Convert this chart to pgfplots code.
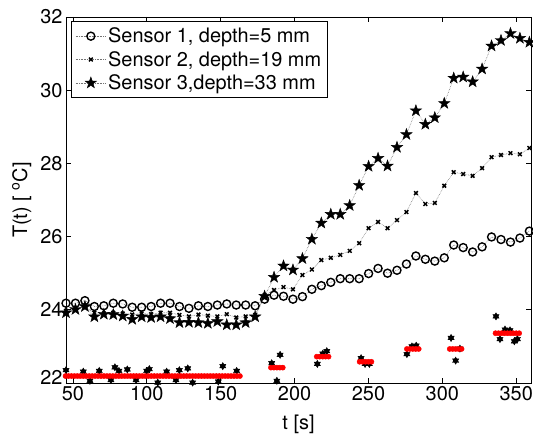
\documentclass[border=0pt]{standalone}
\usepackage{fontspec}
\setmainfont{TeX Gyre Heros}
\usepackage{pgfplots}
\pgfplotsset{compat=1.18}

% filled five-pointed star
\pgfdeclareplotmark{pstar}{%
  \pgfpathmoveto{\pgfpointpolar{90}{\pgfplotmarksize}}%
  \pgfpathlineto{\pgfpointpolar{126}{0.40\pgfplotmarksize}}%
  \pgfpathlineto{\pgfpointpolar{162}{\pgfplotmarksize}}%
  \pgfpathlineto{\pgfpointpolar{198}{0.40\pgfplotmarksize}}%
  \pgfpathlineto{\pgfpointpolar{234}{\pgfplotmarksize}}%
  \pgfpathlineto{\pgfpointpolar{270}{0.40\pgfplotmarksize}}%
  \pgfpathlineto{\pgfpointpolar{306}{\pgfplotmarksize}}%
  \pgfpathlineto{\pgfpointpolar{342}{0.40\pgfplotmarksize}}%
  \pgfpathlineto{\pgfpointpolar{18}{\pgfplotmarksize}}%
  \pgfpathlineto{\pgfpointpolar{54}{0.40\pgfplotmarksize}}%
  \pgfpathclose
  \pgfusepathqfillstroke
}
% filled six-pointed star
\pgfdeclareplotmark{hexa}{%
  \pgfpathmoveto{\pgfpointpolar{90}{\pgfplotmarksize}}%
  \pgfpathlineto{\pgfpointpolar{210}{\pgfplotmarksize}}%
  \pgfpathlineto{\pgfpointpolar{330}{\pgfplotmarksize}}%
  \pgfpathclose
  \pgfpathmoveto{\pgfpointpolar{30}{\pgfplotmarksize}}%
  \pgfpathlineto{\pgfpointpolar{150}{\pgfplotmarksize}}%
  \pgfpathlineto{\pgfpointpolar{270}{\pgfplotmarksize}}%
  \pgfpathclose
  \pgfusepathqfillstroke
}

\pgfplotstableread{
t T
45.3 24.18
51.7 24.18
58.1 24.25
64.5 24.09
70.9 24.11
77.3 24.18
83.7 24.16
90.1 24.07
96.5 24.07
102.9 24.09
109.3 24.18
115.7 24.18
122.1 24.09
128.5 24.04
134.9 24.11
141.3 24.09
147.7 24.13
154.1 24.16
160.5 24.13
166.9 24.13
173.3 24.11
179.7 24.29
186.1 24.40
192.5 24.37
198.9 24.29
205.3 24.36
211.7 24.56
218.1 24.66
224.5 24.75
230.9 24.85
237.3 24.85
243.7 24.85
250.1 24.99
256.5 25.13
262.9 25.00
269.3 25.08
275.7 25.25
282.1 25.47
288.5 25.38
294.9 25.33
301.3 25.42
307.7 25.77
314.1 25.70
320.5 25.58
326.9 25.72
333.3 25.99
339.7 25.92
346.1 25.85
352.5 25.96
358.9 26.15
}\sone

\pgfplotstableread{
t T
45.3 23.97
51.7 24.02
58.1 24.07
64.5 23.92
70.9 23.90
77.3 23.92
83.7 23.90
90.1 23.87
96.5 23.90
102.9 23.88
109.3 23.92
115.7 23.92
122.1 23.86
128.5 23.82
134.9 23.87
141.3 23.84
147.7 23.82
154.1 23.88
160.5 23.79
166.9 23.82
173.3 23.86
179.7 24.40
186.1 24.54
192.5 24.62
198.9 24.56
205.3 24.95
211.7 25.10
218.1 25.36
224.5 25.42
230.9 25.50
237.3 25.61
243.7 25.82
250.1 26.23
256.5 26.40
262.9 26.23
269.3 26.45
275.7 26.67
282.1 27.19
288.5 26.89
294.9 26.92
301.3 27.39
307.7 27.76
314.1 27.71
320.5 27.66
326.9 27.87
333.3 28.17
339.7 28.23
346.1 28.28
352.5 28.25
358.9 28.42
}\stwo

\pgfplotstableread{
t T
45.3 23.92
51.7 24.01
58.1 24.09
64.5 23.81
70.9 23.88
77.3 23.87
83.7 23.83
90.1 23.74
96.5 23.81
102.9 23.79
109.3 23.81
115.7 23.76
122.1 23.65
128.5 23.66
134.9 23.65
141.3 23.63
147.7 23.68
154.1 23.59
160.5 23.59
166.9 23.65
173.3 23.81
179.7 24.37
186.1 24.89
192.5 25.20
198.9 25.09
205.3 25.40
211.7 25.93
218.1 26.37
224.5 26.61
230.9 26.61
237.3 26.85
243.7 27.40
250.1 27.92
256.5 28.14
262.9 27.93
269.3 28.44
275.7 28.79
282.1 29.44
288.5 29.07
294.9 29.25
301.3 29.64
307.7 30.33
314.1 30.36
320.5 30.23
326.9 30.58
333.3 31.21
339.7 31.36
346.1 31.55
352.5 31.42
358.9 31.31
}\sthree

\pgfplotstableread{
t T
45.3 22.35
57.0 22.31
61.5 22.06
67.8 22.33
75.7 22.08
78.4 22.43
81.1 22.33
86.8 22.37
92.7 22.08
99.9 22.33
101.7 22.38
107.4 22.01
113.4 22.31
119.7 22.08
122.0 22.35
127.7 22.40
131.0 22.01
148.4 22.04
151.4 22.46
160.8 22.33
184.5 22.54
188.0 22.06
190.2 22.77
215.4 22.52
219.1 22.80
221.8 22.87
245.0 22.68
247.7 22.52
250.6 22.52
276.0 22.79
279.4 23.00
282.3 23.02
305.9 23.23
309.0 22.61
311.9 22.94
336.3 23.82
339.0 23.20
342.4 23.46
345.8 23.44
348.7 23.14
350.8 23.20
}\lowtab

\begin{document}
\begin{tikzpicture}
\useasboundingbox (-66bp,-52bp) rectangle (467bp,383bp);
\begin{axis}[
  scale only axis, width=465bp, height=366bp,
  xmin=45.3, xmax=360, ymin=22, ymax=32,
  xtick={50,100,...,350}, ytick={24,26,...,32},
  extra y ticks={22},
  extra y tick style={yticklabel style={yshift=6bp}},
  tick align=inside, tick pos=both,
  axis on top,
  major tick length=5bp,
  axis line style={line width=0.9bp},
  every tick/.style={black, line width=0.7bp},
  tick label style={font=\fontsize{20}{24}\selectfont},
  /pgf/number format/assume math mode=true,
  yticklabel style={xshift=0bp},
  xlabel={t [s]}, ylabel={T(t) [ \textsuperscript{o}C]},
  label style={font=\fontsize{20}{24}\selectfont},
  xlabel style={at={(axis description cs:0.5,-0.112)}, anchor=center},
  ylabel style={at={(axis description cs:-0.095,0.5)}, anchor=center},
  clip=false,
  legend style={at={(0.011,0.989)}, anchor=north west,
    font=\fontsize{20}{22}\selectfont, draw=black, line width=0.9bp,
    inner xsep=4bp, inner ysep=4.5bp, row sep=3bp,
    nodes={inner sep=2bp, text depth=0.15em}},
  legend cell align=left,
  legend image code/.code={\draw[mark repeat=2,mark phase=2,#1] plot coordinates {(0bp,0bp)(15bp,0bp)(30bp,0bp)};},
]
\addplot[densely dotted, line width=0.6bp, black!55, mark=o, mark size=4bp,
  mark options={solid, black, line width=1.4bp}] table[x=t,y=T] {\sone};
\addlegendentry{Sensor 1, depth=5 mm}
\addplot[densely dotted, line width=0.6bp, black!55, mark=x, mark size=2.6bp,
  mark options={solid, black, line width=1.5bp}] table[x=t,y=T] {\stwo};
\addlegendentry{Sensor 2, depth=19 mm}
\addplot[densely dotted, line width=0.6bp, black!55, mark=pstar, mark size=6bp,
  mark options={solid, black, fill=black, line width=0.4bp}] table[x=t,y=T] {\sthree};
\addlegendentry{Sensor 3,depth=33 mm}
\addplot[only marks, mark=hexa, mark size=3.6bp,
  mark options={black, fill=black, line width=0.4bp}, forget plot] table[x=t,y=T] {\lowtab};
\addplot[only marks, mark=*, mark size=2.6bp, mark options={draw=red, fill=red}, forget plot]
coordinates {
(45,22.19)(47,22.19)(49,22.19)(51,22.19)(53,22.19)(55,22.19)(57,22.19)(59,22.19)(61,22.19)(63,22.19)
(65,22.19)(67,22.19)(69,22.19)(71,22.19)(73,22.19)(75,22.19)(77,22.19)(79,22.19)(81,22.19)(83,22.19)
(85,22.19)(87,22.19)(89,22.19)(91,22.19)(93,22.19)(95,22.19)(97,22.19)(99,22.19)(101,22.19)(103,22.19)
(105,22.19)(107,22.19)(109,22.19)(111,22.19)(113,22.19)(115,22.19)(117,22.19)(119,22.19)(121,22.19)(123,22.19)
(125,22.19)(127,22.19)(129,22.19)(131,22.19)(133,22.19)(135,22.19)(137,22.19)(139,22.19)(141,22.19)(143,22.19)
(145,22.19)(147,22.19)(149,22.19)(151,22.19)(153,22.19)(155,22.19)(157,22.19)(159,22.19)(161,22.19)(163,22.19)
(184,22.42)(186,22.42)(188,22.42)(190,22.42)(192,22.42)
(215,22.72)(217,22.72)(219,22.72)(221,22.72)(223,22.72)
(244,22.58)(246,22.58)(248,22.58)(250,22.58)(252,22.58)
(276,22.93)(278,22.93)(280,22.93)(282,22.93)(284,22.93)
(305,22.93)(307,22.93)(309,22.93)(311,22.93)(313,22.93)
(336,23.36)(338,23.36)(340,23.36)(342,23.36)(344,23.36)(346,23.36)(348,23.36)(350,23.36)(352,23.36)
};
\end{axis}
\end{tikzpicture}
\end{document}
